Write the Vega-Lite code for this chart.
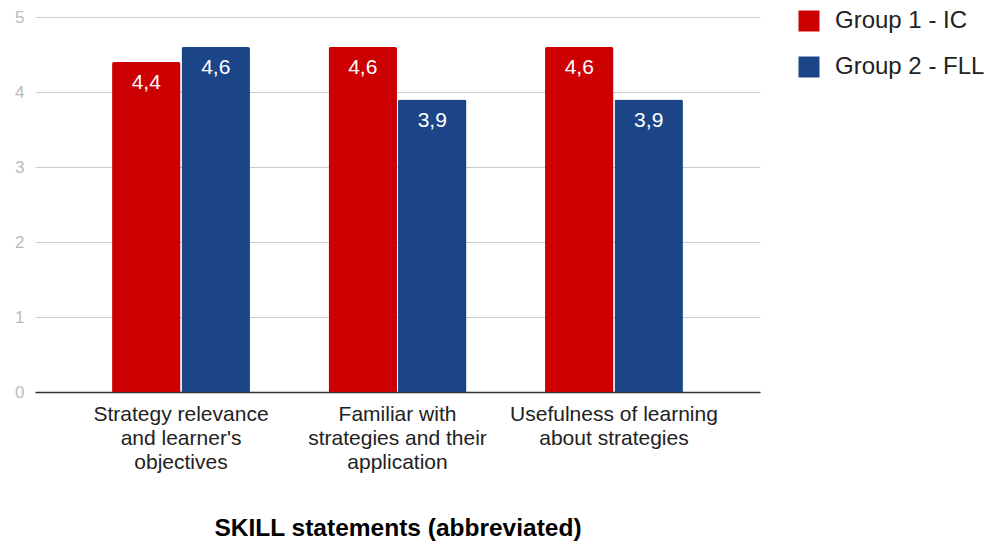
{
  "$schema": "https://vega.github.io/schema/vega-lite/v6.json",
  "width": 725,
  "height": 375,
  "autosize": {"type": "none"},
  "padding": {"left": 35, "top": 17, "right": 234, "bottom": 151},
  "background": "white",
  "config": {
    "font": "Liberation Sans",
    "view": {"stroke": null},
    "locale": {
      "number": {"decimal": ",", "thousands": ".", "grouping": [3], "currency": ["", " €"]}
    }
  },
  "data": {
    "values": [
      {"statement": "Strategy relevance and learner's objectives", "group": "Group 1 - IC", "score": 4.4},
      {"statement": "Strategy relevance and learner's objectives", "group": "Group 2 - FLL", "score": 4.6},
      {"statement": "Familiar with strategies and their application", "group": "Group 1 - IC", "score": 4.6},
      {"statement": "Familiar with strategies and their application", "group": "Group 2 - FLL", "score": 3.9},
      {"statement": "Usefulness of learning about strategies", "group": "Group 1 - IC", "score": 4.6},
      {"statement": "Usefulness of learning about strategies", "group": "Group 2 - FLL", "score": 3.9}
    ]
  },
  "encoding": {
    "x": {
      "field": "statement",
      "type": "nominal",
      "sort": null,
      "scale": {"paddingInner": 0.363, "paddingOuter": 0.356},
      "axis": {
        "title": "SKILL statements (abbreviated)",
        "titleFont": "Liberation Sans",
        "titleFontSize": 24.5,
        "titleFontWeight": "bold",
        "titleColor": "#000000",
        "titlePadding": 44,
        "labelAngle": 0,
        "labelFontSize": 21,
        "labelColor": "#222222",
        "labelLineHeight": 24,
        "labelPadding": 11,
        "labelLimit": 0,
        "ticks": false,
        "domainColor": "#333333",
        "domainWidth": 1.5,
        "labelExpr": "datum.value == \"Strategy relevance and learner's objectives\" ? [\"Strategy relevance\", \"and learner's\", \"objectives\"] : datum.value == \"Familiar with strategies and their application\" ? [\"Familiar with\", \"strategies and their\", \"application\"] : [\"Usefulness of learning\", \"about strategies\"]"
      }
    },
    "xOffset": {
      "field": "group",
      "type": "nominal",
      "scale": {"paddingInner": 0.015}
    },
    "y": {
      "field": "score",
      "type": "quantitative",
      "scale": {"domain": [0, 5], "nice": false},
      "axis": {
        "title": null,
        "values": [0, 1, 2, 3, 4, 5],
        "labelFontSize": 17,
        "labelColor": "#bbbbbb",
        "labelPadding": 11,
        "ticks": false,
        "domain": false,
        "gridColor": "#cccccc",
        "gridWidth": 1
      }
    }
  },
  "layer": [
    {
      "mark": {"type": "bar", "cornerRadiusTopLeft": 2, "cornerRadiusTopRight": 2},
      "encoding": {
        "color": {
          "field": "group",
          "type": "nominal",
          "scale": {"domain": ["Group 1 - IC", "Group 2 - FLL"], "range": ["#cc0000", "#1c4587"]},
          "legend": {
            "title": null,
            "orient": "none",
            "legendX": 762,
            "legendY": -8,
            "symbolType": "square",
            "symbolSize": 441,
            "symbolStrokeWidth": 0,
            "labelFontSize": 24,
            "labelColor": "#222222",
            "labelOffset": 14,
            "labelLimit": 0,
            "rowPadding": 22
          }
        }
      }
    },
    {
      "mark": {"type": "text", "baseline": "top", "dy": 10, "fontSize": 21, "color": "white"},
      "encoding": {
        "text": {"field": "score", "type": "quantitative", "format": ".1f"}
      }
    }
  ]
}
